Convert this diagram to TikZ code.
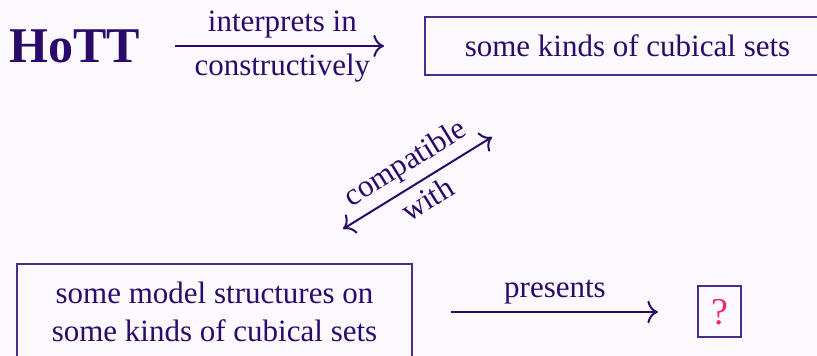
\documentclass[tikz,border=0pt]{standalone}
\usepackage{fontspec}
\setmainfont{Liberation Serif}
\usetikzlibrary{arrows.meta}
\definecolor{ink}{RGB}{43,11,106}
\definecolor{frame}{RGB}{74,44,140}
\definecolor{paper}{RGB}{251,248,254}
\definecolor{hole}{RGB}{240,40,122}
\newcommand{\bodysize}{\fontsize{15.5}{19}\selectfont}
\newcommand{\titlesize}{\fontsize{25}{30}\selectfont\bfseries}

\begin{document}
\begin{tikzpicture}[x=0.5pt, y=-0.5pt,
		every node/.style={text=ink, font=\bodysize},
		box/.style={draw=frame, line width=1pt, inner sep=0pt},
		oneway/.style={-{Computer Modern Rightarrow[scale=1.4]}, ink, line width=1pt},
		twoway/.style={{Computer Modern Rightarrow[scale=1.4]}-{Computer Modern Rightarrow[scale=1.4]}, ink, line width=1pt}]
			\fill[paper] (0,0) rectangle (817,356);
			\useasboundingbox (0,0) rectangle (817,356);
			\node[font=\titlesize, inner sep=0pt, text depth=0pt] (hott) at (75,46) {HoTT};
			\node[box, minimum width=202.5pt, minimum height=29pt] (cubical) at (627.5,46) {some kinds of cubical sets};
			\node[box, align=center, minimum width=197.5pt, minimum height=48pt] (model) at (214.5,312) {some model structures on\\some kinds of cubical sets};
			\node[box, text=hole, font=\fontsize{19}{22}\selectfont, minimum width=21.5pt, minimum height=25.5pt] (what) at (719.5,312) {?};
			\coordinate (lo) at (343,229);
			\coordinate (hi) at (492,137);
			\path[oneway]
			(hott) edge[shorten <=17.4pt, shorten >=20pt] node[above]{interprets in} node[below]{constructively} (cubical)
			(model) edge[shorten <=19pt, shorten >=19.5pt] node[above]{presents} (what);
			\path[twoway]
			(lo) edge node[sloped, above]{compatible} node[sloped, below]{with} (hi);
		\end{tikzpicture}
\end{document}
